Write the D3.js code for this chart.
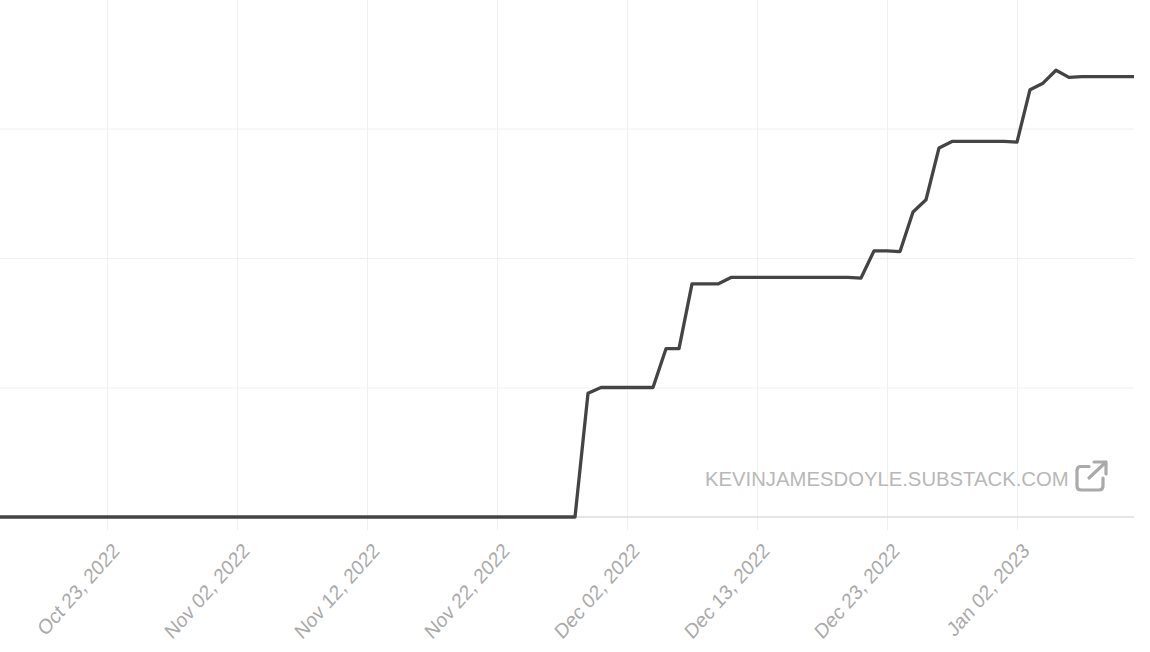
<!DOCTYPE html>
<html>
<head>
<meta charset="utf-8">
<script src="https://cdn.jsdelivr.net/npm/d3@7"></script>
<style>
  html, body { margin: 0; padding: 0; background: #fff; overflow: hidden; }
  text { font-family: "Liberation Sans", Arial, sans-serif; }
</style>
</head>
<body>
<div id="chart"></div>
<script>
// one day is missing from the source between Dec 02 and Dec 13
var dates = [
    "Oct 14, 2022", "Oct 15, 2022", "Oct 16, 2022", "Oct 17, 2022", "Oct 18, 2022", "Oct 19, 2022",
    "Oct 20, 2022", "Oct 21, 2022", "Oct 22, 2022", "Oct 23, 2022", "Oct 24, 2022", "Oct 25, 2022",
    "Oct 26, 2022", "Oct 27, 2022", "Oct 28, 2022", "Oct 29, 2022", "Oct 30, 2022", "Oct 31, 2022",
    "Nov 01, 2022", "Nov 02, 2022", "Nov 03, 2022", "Nov 04, 2022", "Nov 05, 2022", "Nov 06, 2022",
    "Nov 07, 2022", "Nov 08, 2022", "Nov 09, 2022", "Nov 10, 2022", "Nov 11, 2022", "Nov 12, 2022",
    "Nov 13, 2022", "Nov 14, 2022", "Nov 15, 2022", "Nov 16, 2022", "Nov 17, 2022", "Nov 18, 2022",
    "Nov 19, 2022", "Nov 20, 2022", "Nov 21, 2022", "Nov 22, 2022", "Nov 23, 2022", "Nov 24, 2022",
    "Nov 25, 2022", "Nov 26, 2022", "Nov 27, 2022", "Nov 28, 2022", "Nov 29, 2022", "Nov 30, 2022",
    "Dec 01, 2022", "Dec 02, 2022", "Dec 03, 2022", "Dec 04, 2022", "Dec 05, 2022", "Dec 06, 2022",
    "Dec 07, 2022", "Dec 09, 2022", "Dec 10, 2022", "Dec 11, 2022", "Dec 12, 2022", "Dec 13, 2022",
    "Dec 14, 2022", "Dec 15, 2022", "Dec 16, 2022", "Dec 17, 2022", "Dec 18, 2022", "Dec 19, 2022",
    "Dec 20, 2022", "Dec 21, 2022", "Dec 22, 2022", "Dec 23, 2022", "Dec 24, 2022", "Dec 25, 2022",
    "Dec 26, 2022", "Dec 27, 2022", "Dec 28, 2022", "Dec 29, 2022", "Dec 30, 2022", "Dec 31, 2022",
    "Jan 01, 2023", "Jan 02, 2023", "Jan 03, 2023", "Jan 04, 2023", "Jan 05, 2023", "Jan 06, 2023",
    "Jan 07, 2023", "Jan 08, 2023", "Jan 09, 2023", "Jan 10, 2023", "Jan 11, 2023"
];

// values, in hundredths of a gridline step
var values = [
    0, 0, 0, 0, 0, 0,
    0, 0, 0, 0, 0, 0,
    0, 0, 0, 0, 0, 0,
    0, 0, 0, 0, 0, 0,
    0, 0, 0, 0, 0, 0,
    0, 0, 0, 0, 0, 0,
    0, 0, 0, 0, 0, 0,
    0, 0, 0, 0, 95.5, 100,
    100, 100, 100, 100, 130, 130,
    180, 180, 180, 185, 185, 185,
    185, 185, 185, 185, 185, 185,
    185, 184.5, 205.5, 205.5, 205, 235.5,
    245, 285, 290, 290, 290, 290,
    290, 289.5, 330, 335, 345, 339.5,
    340, 340, 340, 340, 340
];

var tickLabels = [
    "Oct 23, 2022", "Nov 02, 2022", "Nov 12, 2022", "Nov 22, 2022",
    "Dec 02, 2022", "Dec 13, 2022", "Dec 23, 2022", "Jan 02, 2023"
];
var yTicks = [100, 200, 300];

var width = 1150;
var height = 652;
var plotBottom = 517;
var plotRight = 1134;
var gridColor = "#f0f0f0";

var x = d3.scalePoint().domain(dates).range([-10, plotRight]);
var y = d3.scaleLinear().domain([0, 300]).range([plotBottom, 128.5]);

var svg = d3.select("#chart").append("svg")
    .attr("width", width)
    .attr("height", height)
    .style("display", "block");

// horizontal gridlines
var yAxis = svg.append("g")
    .call(d3.axisLeft(y).tickValues(yTicks).tickSize(-plotRight).tickFormat(""));
yAxis.select(".domain").remove();
yAxis.selectAll("line").attr("stroke", gridColor).attr("stroke-width", 1);

// vertical gridlines run past the baseline as ticks
var xAxis = svg.append("g")
    .attr("transform", "translate(0," + plotBottom + ")")
    .call(d3.axisBottom(x).tickValues(tickLabels).tickSize(0));
xAxis.select(".domain").remove();
xAxis.selectAll(".tick").append("line")
    .attr("y1", -plotBottom)
    .attr("y2", 13)
    .attr("stroke", gridColor)
    .attr("stroke-width", 1);
// the labels in the picture are slightly stretched vertically
xAxis.selectAll("text")
    .attr("fill", "#aaaaaa")
    .attr("font-size", 18.6)
    .attr("text-anchor", "end")
    .attr("dy", null)
    .attr("y", 0)
    .attr("transform", "translate(13,35) scale(1,1.13) rotate(-45)");

// baseline
svg.append("line")
    .attr("x1", 0)
    .attr("x2", plotRight)
    .attr("y1", y(0))
    .attr("y2", y(0))
    .attr("stroke", "#dddddd")
    .attr("stroke-width", 1.5);

var line = d3.line()
    .x(function(d, i) { return x(dates[i]); })
    .y(function(d) { return y(d); });

svg.append("path")
    .datum(values)
    .attr("fill", "none")
    .attr("stroke", "#444444")
    .attr("stroke-width", 3.3)
    .attr("stroke-linejoin", "round")
    .attr("d", line);

svg.append("text")
    .attr("x", 705)
    .attr("y", 486)
    .attr("fill", "#b8b8b8")
    .attr("font-size", 20.3)
    .text("KEVINJAMESDOYLE.SUBSTACK.COM");

// external link icon
var icon = svg.append("g")
    .attr("fill", "none")
    .attr("stroke", "#aaaaaa")
    .attr("stroke-width", 3.2)
    .attr("stroke-linecap", "round")
    .attr("stroke-linejoin", "round");
icon.append("path").attr("d", "M1089 466.5H1081q-4 0-4 4V486q0 4 4 4H1099q4 0 4-4V478");
icon.append("path").attr("d", "M1089 478L1106 462M1094 462H1106V474");
</script>
</body>
</html>
